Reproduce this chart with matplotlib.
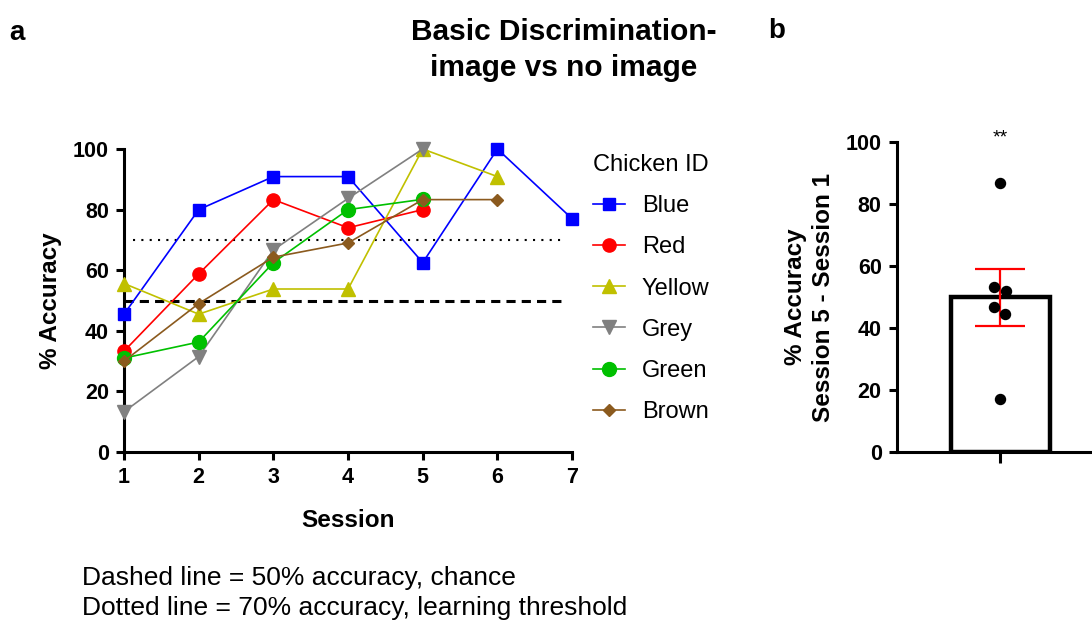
import matplotlib.pyplot as plt
import numpy as np

plt.rcParams['font.family'] = ['Liberation Sans', 'DejaVu Sans']

# ---- panel a data: % accuracy per session for each chicken ----
sessions_blue = [1, 2, 3, 4, 5, 6, 7]
acc_blue = [45.5, 80.0, 90.9, 90.9, 62.5, 100.0, 77.0]
sessions_red = [1, 2, 3, 4, 5]
acc_red = [33.3, 58.8, 83.3, 74.0, 80.0]
sessions_yellow = [1, 2, 3, 4, 5, 6]
acc_yellow = [55.6, 45.5, 53.8, 53.8, 100.0, 90.9]
sessions_grey = [1, 2, 3, 4, 5]
acc_grey = [13.3, 31.5, 66.7, 83.7, 100.0]
sessions_green = [1, 2, 3, 4, 5]
acc_green = [31.0, 36.3, 62.5, 80.0, 83.4]
sessions_brown = [1, 2, 3, 4, 5, 6]
acc_brown = [30.0, 49.0, 64.3, 69.0, 83.3, 83.3]

chickens = ['Blue', 'Red', 'Yellow', 'Grey', 'Green', 'Brown']
chance = 50
threshold = 70

# ---- panel b data: session 5 - session 1 ----
diff_points = [17.0, 46.7, 44.4, 86.7, 52.0, 53.3]
diff_mean = 50.0
diff_sem = 9.2

series = [
    (sessions_blue, acc_blue, '#0000FF', 's', 8.5),
    (sessions_red, acc_red, '#FF0000', 'o', 9.5),
    (sessions_yellow, acc_yellow, '#C0C000', '^', 10),
    (sessions_grey, acc_grey, '#808080', 'v', 10),
    (sessions_green, acc_green, '#00C000', 'o', 10),
    (sessions_brown, acc_brown, '#8B5A1E', 'D', 6.5),
]

fig = plt.figure(figsize=(10.92, 6.24), dpi=100)

# ===== panel a =====
ax = fig.add_axes([0.1136, 0.2756, 0.4103, 0.4856])
for (xs, ys, col, mk, ms), name in zip(series, chickens):
    ax.plot(xs, ys, color=col, marker=mk, markersize=ms, linewidth=1.2,
            label=name, clip_on=False, zorder=3)

ax.hlines(chance, 1, 6.9, colors='black', linestyles=(0, (3, 2)), linewidth=2.2, zorder=2)
ax.hlines(threshold, 1.12, 6.9, colors='black', linestyles=(0, (1, 3)), linewidth=1.5, zorder=2)

ax.set_xlim(1, 7)
ax.set_ylim(0, 100)
ax.set_xticks(range(1, 8))
ax.set_yticks(range(0, 101, 20))
for s in ['top', 'right']:
    ax.spines[s].set_visible(False)
for s in ['left', 'bottom']:
    ax.spines[s].set_linewidth(2.2)
ax.tick_params(width=2.2, length=6, labelsize=15.5, pad=5)
for lab in ax.get_xticklabels() + ax.get_yticklabels():
    lab.set_fontweight('bold')
ax.set_xlabel('Session', fontsize=17.5, fontweight='bold', labelpad=15)
ax.set_ylabel('% Accuracy', fontsize=17.5, fontweight='bold', labelpad=8)

leg = ax.legend(title='Chicken ID', loc='upper left', bbox_to_anchor=(1.046, 0.983),
                frameon=False, fontsize=17, title_fontsize=17,
                handlelength=1.36, handletextpad=0.72, labelspacing=0.81,
                borderaxespad=0, borderpad=0)
leg._legend_box.align = 'left'

# ===== panel b =====
bx = fig.add_axes([0.8214, 0.2756, 0.1786, 0.4968])
bx.bar([0], [diff_mean], width=1.0, color='white', edgecolor='black',
       linewidth=3.2, zorder=1)
bx.errorbar([0], [diff_mean], yerr=[diff_sem], color='#FF0000', capsize=18,
            elinewidth=1.6, capthick=1.6, zorder=3)
x_jitter = [0.0, -0.065, 0.05, 0.0, 0.055, -0.065]
bx.scatter(x_jitter, diff_points, s=52, color='black', zorder=4)
bx.text(0, 100, '**', ha='center', va='baseline', fontsize=14)

bx.set_xlim(-1.045, 0.93)
bx.set_ylim(0, 100)
bx.set_yticks(range(0, 101, 20))
bx.set_xticks([0])
bx.set_xticklabels([''])
for s in ['top', 'right']:
    bx.spines[s].set_visible(False)
for s in ['left', 'bottom']:
    bx.spines[s].set_linewidth(2.2)
bx.tick_params(width=2.2, length=6, labelsize=15.5, pad=5)
bx.tick_params(axis='x', length=8)
for lab in bx.get_yticklabels():
    lab.set_fontweight('bold')
bx.set_ylabel('% Accuracy\nSession 5 - Session 1', fontsize=17.5,
              fontweight='bold', labelpad=8, linespacing=1.25)

# ===== figure texts =====
fig.text(9 / 1092, 1 - 33 / 624, 'a', fontsize=20, fontweight='bold', va='center')
fig.text(768 / 1092, 1 - 31 / 624, 'b', fontsize=20, fontweight='bold', va='center')
fig.text(564 / 1092, 1 - 50 / 624, 'Basic Discrimination-\nimage vs no image',
         ha='center', va='center', fontsize=21.5, fontweight='bold', linespacing=1.37)
fig.text(82 / 1092, 1 - 593 / 624,
         'Dashed line = 50% accuracy, chance\nDotted line = 70% accuracy, learning threshold',
         ha='left', va='center', fontsize=19, linespacing=1.28)

fig.savefig('out.png', dpi=100)
